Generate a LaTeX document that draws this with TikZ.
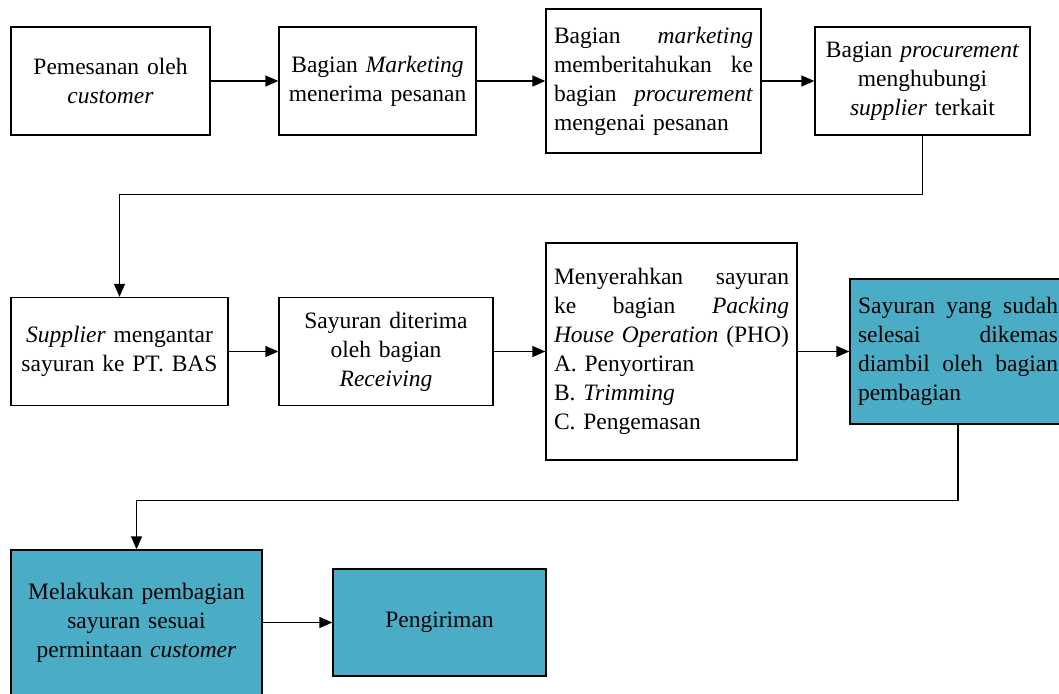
\documentclass[tikz,border=0pt]{standalone}
\usepackage{fontspec}
\setmainfont{Liberation Serif}
\usetikzlibrary{arrows.meta}
\definecolor{tealfill}{RGB}{75,172,198}
\newcommand{\jline}[1]{\leavevmode\hbox to \hsize{#1}}

\begin{document}
\begin{tikzpicture}[x=1pt, y=-1pt,
    box/.style={draw, line width=1.3pt, inner xsep=8pt, inner ysep=0pt,
      font=\fontsize{23.5}{29}\selectfont, align=center},
    tealbox/.style={box, fill=tealfill},
    arrow/.style={-{Triangle[length=13pt, width=11pt]}, line width=1.3pt}]
    \useasboundingbox (0,0) rectangle (1059,693);
    % Row 1.
    \node[box, text width=183pt, minimum height=108pt] (pesan) at (110.5,81) {Pemesanan oleh\\\textit{customer}};
    \node[box, text width=181pt, minimum height=108pt] (terima) at (377.5,81) {Bagian \textit{Marketing}\\menerima pesanan};
    \node[box, text width=199pt, minimum height=144pt, align=left] (beritahu) at (653.5,81)
      {\jline{Bagian\hfill\textit{marketing}}\\\jline{memberitahukan\hfill ke}\\\jline{bagian\hfill\textit{procurement}}\\mengenai pesanan};
    \node[box, text width=199pt, minimum height=108pt] (hubungi) at (922.5,81) {Bagian \textit{procurement}\\menghubungi\\\textit{supplier} terkait};
    % Row 2.
    \node[box, text width=201pt, minimum height=108pt] (antar) at (119.5,351.5) {\textit{Supplier} mengantar\\sayuran ke PT. BAS};
    \node[box, text width=198pt, minimum height=108pt] (diterima) at (386,351.5) {Sayuran diterima\\oleh bagian\\\textit{Receiving}};
    \node[box, text width=235pt, minimum height=217pt, align=left] (serah) at (671.5,351.5)
      {\jline{Menyerahkan\hfill sayuran}\\\jline{ke\hfill bagian\hfill\textit{Packing}}\\\jline{\textit{House Operation}\hfill(PHO)}\\A. Penyortiran\\B. \textit{Trimming}\\C. Pengemasan};
    \node[tealbox, text width=200pt, minimum height=145pt, align=left] (ambil) at (958,351.5)
      {\jline{Sayuran\hfill yang\hfill sudah}\\\jline{selesai\hfill dikemas}\\\jline{diambil\hfill oleh\hfill bagian}\\pembagian};
    % Row 3.
    \node[tealbox, text width=235pt, minimum height=145pt] (bagi) at (136.5,622.5) {Melakukan pembagian\\sayuran sesuai\\permintaan \textit{customer}};
    \node[tealbox, text width=197pt, minimum height=107pt] (kirim) at (439.5,622.5) {Pengiriman};
    % Arrows.
    \draw[arrow] (pesan) -- (terima);
    \draw[arrow] (terima) -- (beritahu);
    \draw[arrow] (beritahu) -- (hubungi);
    \draw[arrow] (hubungi.south) -- ++(0,59) -| (antar.north);
    \draw[arrow] (antar) -- (diterima);
    \draw[arrow] (diterima) -- (serah);
    \draw[arrow] (serah) -- (ambil);
    \draw[arrow] (ambil.south) -- ++(0,76) -| (bagi.north);
    \draw[arrow] (bagi) -- (kirim);
\end{tikzpicture}
\end{document}
